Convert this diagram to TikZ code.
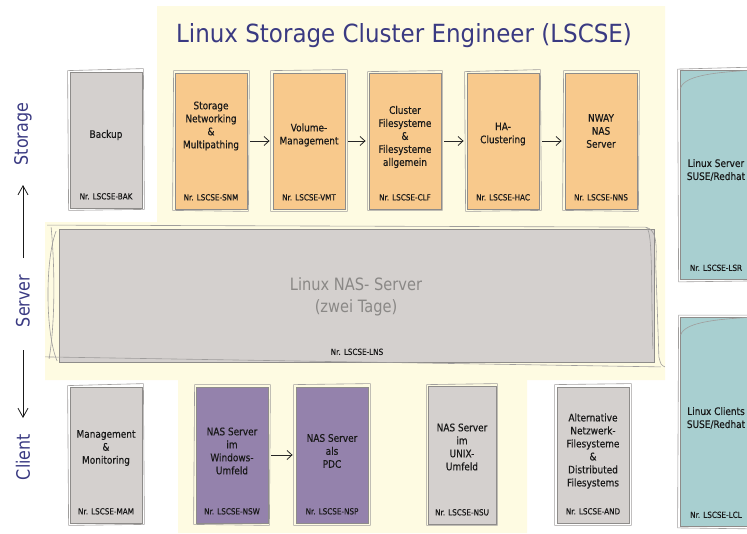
\documentclass[tikz,border=0pt]{standalone}
\usepackage{fontspec}
\setmainfont{DejaVu Sans}[FakeStretch=0.86]
\newfontfamily\headfont{DejaVu Sans}[FakeStretch=0.92]
\newfontfamily\labelfont{DejaVu Sans}[FakeStretch=0.86, FakeBold=0.35]
\usetikzlibrary{arrows.meta}
\definecolor{bgyel}{HTML}{FEFBE2}
\definecolor{skgray}{HTML}{8E8C8A}
\definecolor{boxgray}{HTML}{D4D0CE}
\definecolor{boxorange}{HTML}{F8C98C}
\definecolor{boxpurple}{HTML}{9482AC}
\definecolor{boxteal}{HTML}{A8CFD0}
\definecolor{headblue}{HTML}{3A3A82}
\definecolor{bigtext}{HTML}{8A8886}
\begin{document}
\begin{tikzpicture}[x=1pt,y=-1pt,
  box/.style={draw=skgray, line width=0.8pt, minimum width=72pt, minimum height=136pt, inner sep=0pt},
  skline/.style={draw=skgray!85, line width=0.6pt},
  txt/.style={font=\labelfont\fontsize{10.4}{13}\selectfont, align=center, text=black!90},
  nr/.style={font=\labelfont\fontsize{8.4}{9}\selectfont, text=black!90},
  side/.style={font=\fontsize{18.5}{22}\selectfont, text=headblue, rotate=90},
  arr/.style={-{Straight Barb[length=5pt,width=9pt]}, line width=0.8pt, draw=black!85},
  bigarr/.style={-{Straight Barb[length=9pt,width=10pt]}, line width=0.8pt, draw=black!90}]
\useasboundingbox (0,0) rectangle (747,533);

% background of the course area
\fill[bgyel] (157,6) -- (665,6) -- (665,380) -- (527,380) -- (527,533) -- (178,533)
  -- (178,380) -- (45,380) -- (45,222) -- (157,222) -- cycle;

% title
\node[font=\headfont\fontsize{25}{28}\selectfont, text=headblue] (title) at (404,36) {Linux Storage Cluster Engineer (LSCSE)};

% side labels and direction arrows
\node[side] (lstorage) at (23,134) {Storage};
\node[side] (lserver) at (23,301) {Server};
\node[side] (lclient) at (23,457) {Client};
\coordinate (upa) at (23,258);
\coordinate (upb) at (23,185);
\coordinate (dna) at (23,350);
\coordinate (dnb) at (23,418);
\draw[bigarr] (upa) -- (upb);
\draw[bigarr] (dna) -- (dnb);

% top row
\node[box, fill=boxgray] (bak) at (106,140) {};
\node[box, fill=boxorange] (snm) at (211,141) {};
\node[box, fill=boxorange] (vmt) at (309,141) {};
\node[box, fill=boxorange] (clf) at (405,141) {};
\node[box, fill=boxorange] (hac) at (503,141) {};
\node[box, fill=boxorange] (nns) at (601,141) {};
\node[box, fill=boxteal, minimum height=209pt] (lsr) at (716,175) {};

% bottom row
\node[box, fill=boxgray] (mam) at (106,455) {};
\node[box, fill=boxpurple] (nsw) at (232,455) {};
\node[box, fill=boxpurple] (nsp) at (332,455) {};
\node[box, fill=boxgray, minimum width=68pt, minimum height=138pt] (nsu) at (462,455) {};
\node[box, fill=boxgray] (and) at (593,455) {};
\node[box, fill=boxteal, minimum height=209pt] (lcl) at (716,422) {};

% big server box
\node[box, fill=boxgray, minimum width=595pt, minimum height=133pt] (lns) at (357,296) {};

% second pencil outlines
\foreach \n/\a/\b in {bak/2/1,snm/1/2,vmt/2/2,clf/1/1,hac/2/1,nns/1/2,mam/2/1,nsw/1/2,nsp/2/2,nsu/1/1,and/2/2,lsr/2/1,lcl/1/2}{
  \draw[skline] ([shift={(-\a,-\b)}]\n.north west) -- ([shift={(\b,-\a-1)}]\n.north east)
    -- ([shift={(\a,\b)}]\n.south east) -- ([shift={(-\b,\a)}]\n.south west) -- cycle;
}
\draw[skline] (lsr.north west) ++(1,18) .. controls ++(4,-14) and ++(-30,2) .. (lsr.north east);
\draw[skline] (lcl.north west) ++(1,18) .. controls ++(4,-14) and ++(-30,2) .. (lcl.north east);

% pencil strokes around the big box
\draw[skline] ([shift={(-12,-4)}]lns.north west) -- ([shift={(-10,-2)}]lns.north east)
  .. controls ([shift={(6,0)}]lns.north east) and ([shift={(0,30)}]lns.north east) .. ([shift={(1,40)}]lns.north east)
  -- ([shift={(4,-6)}]lns.south east) .. controls ([shift={(6,2)}]lns.south east) .. ([shift={(10,4)}]lns.south east);
\draw[skline] ([shift={(-3,2)}]lns.north west) .. controls ([shift={(-14,30)}]lns.north west) and ([shift={(-14,-30)}]lns.south west) .. ([shift={(-2,-2)}]lns.south west);
\draw[skline] ([shift={(-8,-2)}]lns.north west) .. controls ([shift={(-4,40)}]lns.north west) and ([shift={(-4,-40)}]lns.south west) .. ([shift={(-10,-4)}]lns.south west);
\draw[skline] ([shift={(-14,-6)}]lns.south west) -- ([shift={(6,4)}]lns.south east);
\draw[skline] ([shift={(-8,-1)}]lns.north east) .. controls ([shift={(-2,4)}]lns.north east) and ([shift={(-4,60)}]lns.north east) .. ([shift={(-2,120)}]lns.north east);

% box texts
\node[txt] (bak-t) at (106,135) {Backup};
\node[txt] (snm-t) at (211,126) {Storage\\Networking\\\&\\Multipathing};
\node[txt] (vmt-t) at (309,135) {Volume-\\Management};
\node[txt] (clf-t) at (405,137) {Cluster\\Filesysteme\\\&\\Filesysteme\\allgemein};
\node[txt] (hac-t) at (503,134) {HA-\\Clustering};
\node[txt] (nns-t) at (601,131) {NWAY\\NAS\\Server};
\node[txt] (lsr-t) at (716,170) {Linux Server\\SUSE/Redhat};
\node[txt] (mam-t) at (106,448) {Management\\\&\\Monitoring};
\node[txt] (nsw-t) at (232,451) {NAS Server\\im\\Windows-\\Umfeld};
\node[txt] (nsp-t) at (332,451) {NAS Server\\als\\PDC};
\node[txt] (nsu-t) at (462,447) {NAS Server\\im\\UNIX-\\Umfeld};
\node[txt] (and-t) at (593,451) {Alternative\\Netzwerk-\\Filesysteme\\\&\\Distributed\\Filesystems};
\node[txt] (lcl-t) at (716,418) {Linux Clients\\SUSE/Redhat};
\node[font=\fontsize{17}{22}\selectfont, text=bigtext, align=center] (lns-t) at (356,297) {Linux NAS- Server\\(zwei Tage)};

% course numbers
\foreach \n/\c in {bak/BAK,snm/SNM,vmt/VMT,clf/CLF,hac/HAC,nns/NNS,mam/MAM,nsw/NSW,nsp/NSP,nsu/NSU,and/AND,lsr/LSR,lcl/LCL}{
  \node[nr, anchor=base] (\n-nr) at ([yshift=9pt]\n.south) {Nr. LSCSE-\c};
}
\node[nr, anchor=base] (lns-nr) at ([yshift=8pt]lns.south) {Nr. LSCSE-LNS};

% learning path arrows
\draw[arr] ([xshift=3pt]snm.east) -- ([xshift=-3pt]vmt.west);
\draw[arr] ([xshift=3pt]vmt.east) -- ([xshift=-3pt]clf.west);
\draw[arr] ([xshift=3pt]clf.east) -- ([xshift=-3pt]hac.west);
\draw[arr] ([xshift=3pt]hac.east) -- ([xshift=-3pt]nns.west);
\draw[arr] ([xshift=3pt]nsw.east) -- ([xshift=-3pt]nsp.west);
\end{tikzpicture}
\end{document}
